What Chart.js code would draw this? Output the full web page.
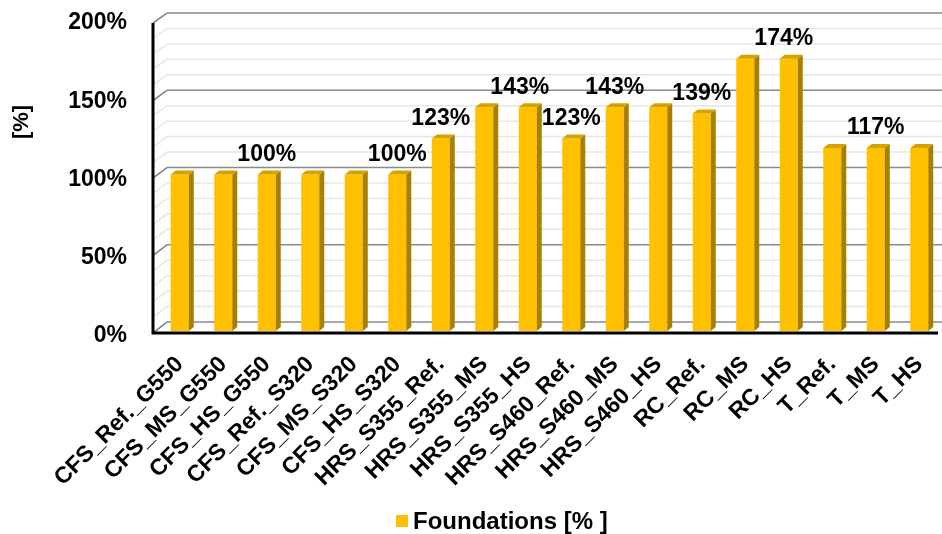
<!DOCTYPE html>
<html>
<head>
<meta charset="utf-8">
<script src="https://cdn.jsdelivr.net/npm/chart.js@4.4.1/dist/chart.umd.min.js"></script>
<style>
  html, body { margin: 0; padding: 0; background: #fff; }
  #wrap { width: 942px; height: 534px; }
</style>
</head>
<body>
<div id="wrap"><canvas id="myChart"></canvas></div>
<script>
let categories = ["CFS_Ref._G550", "CFS_MS_G550", "CFS_HS_G550", "CFS_Ref._S320", "CFS_MS_S320", "CFS_HS_S320",
  "HRS_S355_Ref.", "HRS_S355_MS", "HRS_S355_HS", "HRS_S460_Ref.", "HRS_S460_MS", "HRS_S460_HS",
  "RC_Ref.", "RC_MS", "RC_HS", "T_Ref.", "T_MS", "T_HS"];
let foundations = [100, 100, 100, 100, 100, 100, 123, 143, 143, 123, 143, 143, 139, 174, 174, 117, 117, 117];
// only these bars carry a value label in the picture
let labelled = [2, 5, 6, 8, 9, 10, 12, 14, 16];
let yTicks = [0, 50, 100, 150, 200];

const FONT = "'Liberation Sans', Arial, sans-serif";

// back wall with the 3D grid, black front axes, 3D bar faces, labels, legend
const wallPlugin = {
  id: "wall",
  beforeDatasetsDraw(chart) {
    const ctx = chart.ctx;
    const y = chart.scales.y;
    const a = chart.chartArea;
    const y0 = y.getPixelForValue(0);
    const fx = a.left - 5, bx = a.left + 9;
    ctx.save();
    for (let v = y.min; v <= y.max; v += 10) {
      const py = y.getPixelForValue(v);
      const yf = py + 2 + (y0 - py) * 3 / 313;
      const yb = py - 9 + (y0 - py) * 4 / 313;
      const major = v % 50 === 0;
      ctx.strokeStyle = major ? "#8a8a8a" : "#e6e6e6";
      ctx.lineWidth = major ? 1.6 : 1.5;
      ctx.beginPath();
      ctx.moveTo(fx, yf);
      ctx.lineTo(bx, yb);
      ctx.lineTo(chart.width, yb);
      ctx.stroke();
    }
    const top = y.getPixelForValue(y.max);
    ctx.strokeStyle = "#000";
    ctx.lineWidth = 3;
    ctx.beginPath();
    ctx.moveTo(fx, top + 5);
    ctx.lineTo(fx, y0 + 2);
    ctx.lineTo(chart.width - 4, y0 + 2);
    ctx.stroke();
    ctx.restore();
  },
  afterDatasetsDraw(chart) {
    const ctx = chart.ctx;
    const meta = chart.getDatasetMeta(0);
    const dx = 5, dy = 4;
    ctx.save();
    meta.data.forEach((bar, i) => {
      const p = bar.getProps(["x", "y", "base", "width"], true);
      const l = p.x - p.width / 2, r = p.x + p.width / 2;
      ctx.fillStyle = "#a88000";
      ctx.beginPath();
      ctx.moveTo(r, p.y);
      ctx.lineTo(r + dx, p.y - dy);
      ctx.lineTo(r + dx, p.base - dy);
      ctx.lineTo(r, p.base);
      ctx.closePath();
      ctx.fill();
      ctx.fillStyle = "#d6a200";
      ctx.beginPath();
      ctx.moveTo(l, p.y);
      ctx.lineTo(l + dx, p.y - dy);
      ctx.lineTo(r + dx, p.y - dy);
      ctx.lineTo(r, p.y);
      ctx.closePath();
      ctx.fill();
    });
    // value labels
    const nudge = { 8: -8, 14: -5 };
    ctx.fillStyle = "#000";
    ctx.font = "bold 23px " + FONT;
    ctx.textAlign = "center";
    ctx.textBaseline = "middle";
    labelled.forEach(i => {
      const p = meta.data[i].getProps(["x", "y"], true);
      ctx.fillText(foundations[i] + "%", p.x + (nudge[i] || 0), p.y - 20);
    });
    ctx.restore();
  },
  afterDraw(chart) {
    const ctx = chart.ctx;
    const ds = chart.data.datasets[0];
    ctx.save();
    // legend
    ctx.fillStyle = ds.backgroundColor;
    ctx.fillRect(396, 515, 12, 12);
    ctx.fillStyle = "#000";
    ctx.font = "bold 24px " + FONT;
    ctx.textAlign = "left";
    ctx.textBaseline = "middle";
    ctx.fillText(ds.label, 413, 522);
    // y axis title
    ctx.translate(22, 122);
    ctx.rotate(-Math.PI / 2);
    ctx.textAlign = "center";
    ctx.font = "bold 22px " + FONT;
    ctx.fillText("[%]", 0, 0);
    ctx.restore();
  }
};

new Chart(document.getElementById("myChart"), {
  type: "bar",
  data: {
    labels: categories,
    datasets: [{
      label: "Foundations [% ]",
      data: foundations,
      backgroundColor: "#ffc000",
      borderWidth: 0,
      barPercentage: 0.414,
      categoryPercentage: 1
    }]
  },
  options: {
    responsive: true,
    maintainAspectRatio: false,
    animation: false,
    layout: { padding: { top: 18, right: 1, bottom: 0, left: 0 } },
    plugins: {
      legend: { display: false },
      tooltip: { enabled: false }
    },
    scales: {
      x: {
        grid: { display: false, drawTicks: false },
        border: { display: false },
        ticks: {
          minRotation: 45,
          maxRotation: 45,
          autoSkip: false,
          padding: 20,
          color: "#000",
          font: { family: FONT, size: 23, weight: "bold" }
        },
        afterFit(scale) {
          scale.height = 203;
          scale.paddingLeft = 0;
          scale.paddingRight = 0;
        }
      },
      y: {
        min: 0,
        max: 200,
        grid: { display: false, drawTicks: false },
        border: { display: false },
        afterBuildTicks(scale) { scale.ticks = yTicks.map(v => ({ value: v })); },
        ticks: {
          padding: 31,
          labelOffset: 5,
          color: "#000",
          font: { family: FONT, size: 23, weight: "bold" },
          callback: v => v + "%"
        },
        afterFit(scale) {
          scale.width = 158;
          scale.paddingTop = 0;
          scale.paddingBottom = 0;
        }
      }
    }
  },
  plugins: [wallPlugin]
});
</script>
</body>
</html>
